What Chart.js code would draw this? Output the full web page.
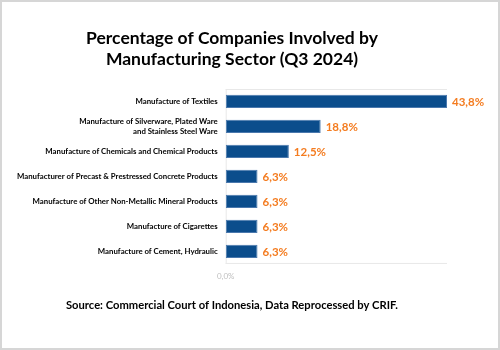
<!DOCTYPE html>
<html>
<head>
<meta charset="utf-8">
<script src="https://cdn.jsdelivr.net/npm/chart.js@4/dist/chart.umd.min.js"></script>
<style>
  html, body { margin: 0; padding: 0; background: #fff; }
  #wrap { width: 500px; height: 350px; position: relative; }
</style>
</head>
<body>
<div id="wrap"><canvas id="sectorChart"></canvas></div>
<script>
// data
var sectors = [
    'Manufacture of Textiles',
    ['Manufacture of Silverware, Plated Ware', 'and Stainless Steel Ware'],
    'Manufacture of Chemicals and Chemical Products',
    'Manufacturer of Precast & Prestressed Concrete Products',
    'Manufacture of Other Non-Metallic Mineral Products',
    'Manufacture of Cigarettes',
    'Manufacture of Cement, Hydraulic'
];
var shares = [43.8, 18.8, 12.5, 6.3, 6.3, 6.3, 6.3];
var xTicks = [0];

function pct(v){ return v.toFixed(1).replace('.', ',') + '%'; }

(function(){
    Chart.defaults.font.family = 'Lato, "Open Sans", sans-serif';

    var frame = {
        id: 'frame',
        beforeDatasetsDraw: function(chart){
            var a = chart.chartArea, c = chart.ctx;
            c.save();
            c.strokeStyle = '#e8e8e8';
            c.lineWidth = 1;
            c.beginPath();
            c.moveTo(a.left, a.top + 0.5); c.lineTo(a.right, a.top + 0.5);
            c.moveTo(a.left, a.bottom - 0.5); c.lineTo(a.right, a.bottom - 0.5);
            c.moveTo(a.left + 0.5, a.top); c.lineTo(a.left + 0.5, a.bottom);
            c.stroke();
            c.restore();
        },
        afterDraw: function(chart){
            var c = chart.ctx;
            c.save();
            c.strokeStyle = '#d6d6d6';
            c.lineWidth = 2;
            c.strokeRect(1, 1, chart.width - 2, chart.height - 2);
            c.restore();
        }
    };

    var valueLabels = {
        id: 'valueLabels',
        afterDatasetsDraw: function(chart){
            var c = chart.ctx;
            var meta = chart.getDatasetMeta(0);
            c.save();
            c.font = 'bold 11.5px Lato, "Open Sans", sans-serif';
            c.fillStyle = '#f47c20';
            c.textAlign = 'left';
            c.textBaseline = 'middle';
            meta.data.forEach(function(bar, i){
                c.fillText(pct(shares[i]), bar.x + 5, bar.y + 1);
            });
            c.restore();
        }
    };

    var ctx = document.getElementById('sectorChart').getContext('2d');
    new Chart(ctx, {
        type: 'bar',
        data: {
            labels: sectors,
            datasets: [{
                data: shares,
                backgroundColor: '#0b4d8c',
                borderColor: '#4a78ad',
                borderWidth: 1,
                borderSkipped: false,
                categoryPercentage: 1,
                barPercentage: 0.53
            }]
        },
        options: {
            indexAxis: 'y',
            responsive: true,
            maintainAspectRatio: false,
            animation: false,
            layout: { padding: { left: 17, right: 53, top: 28, bottom: 38 } },
            plugins: {
                legend: { display: false },
                tooltip: { enabled: false },
                title: {
                    display: true,
                    text: ['Percentage of Companies Involved by', 'Manufacturing Sector (Q3 2024)'],
                    color: '#000',
                    font: { size: 17.5, weight: 'bold' },
                    lineHeight: 1.3,
                    padding: { top: 0, bottom: 19 }
                },
                subtitle: {
                    display: true,
                    position: 'bottom',
                    text: 'Source: Commercial Court of Indonesia, Data Reprocessed by CRIF.',
                    color: '#000',
                    font: { size: 11.2, weight: 'bold' },
                    padding: { top: 17, bottom: 0 }
                }
            },
            scales: {
                x: {
                    min: 0,
                    max: 43.8,
                    grid: { display: false },
                    border: { display: false },
                    afterBuildTicks: function(axis){
                        axis.ticks = xTicks.map(function(v){ return { value: v }; });
                    },
                    ticks: {
                        color: '#bfbfbf',
                        font: { size: 8 },
                        padding: 0,
                        callback: function(v){ return pct(v); }
                    }
                },
                y: {
                    grid: { display: false },
                    border: { display: false },
                    ticks: {
                        color: '#000',
                        font: { size: 7.8, weight: 'bold' },
                        padding: 0,
                        autoSkip: false
                    }
                }
            }
        },
        plugins: [frame, valueLabels]
    });
})();
</script>
</body>
</html>
